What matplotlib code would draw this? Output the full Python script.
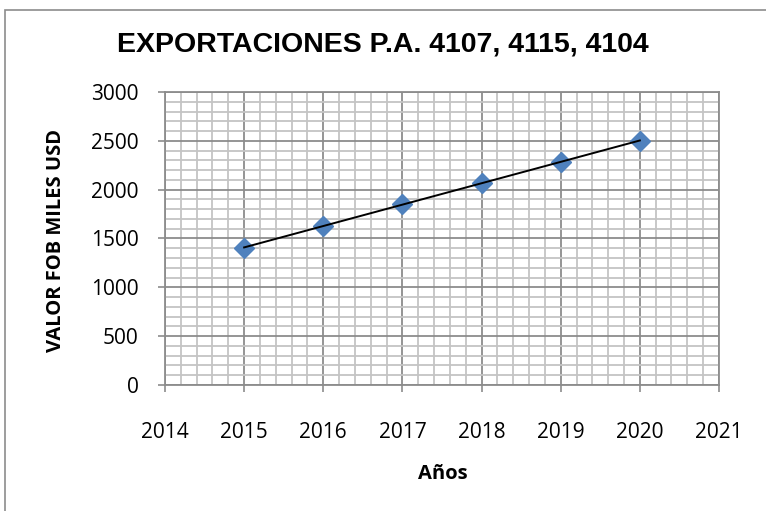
import numpy as np
import matplotlib.pyplot as plt
from matplotlib.patches import Rectangle
from matplotlib.ticker import MultipleLocator

# datos
anios = [2015, 2016, 2017, 2018, 2019, 2020]
valor_fob = [1405, 1628, 1850, 2068, 2285, 2500]

titulo = "EXPORTACIONES P.A. 4107, 4115, 4104"
etiqueta_x = "Años"
etiqueta_y = "VALOR FOB MILES USD"

fig = plt.figure(figsize=(7.66, 5.11), dpi=100)
ax = fig.add_axes([0.2154, 0.2466, 0.7232, 0.5734])

# borde del area del grafico
fig.patches.append(Rectangle((5 / 766, -0.02), 1.1, 1 - 10 / 511 + 0.02,
                             transform=fig.transFigure, fill=False,
                             edgecolor="#8c8c8c", lw=1.2))

ax.set_xlim(2014, 2021)
ax.set_ylim(0, 3000)
ax.xaxis.set_major_locator(MultipleLocator(1))
ax.xaxis.set_minor_locator(MultipleLocator(0.2))
ax.yaxis.set_major_locator(MultipleLocator(500))
ax.yaxis.set_minor_locator(MultipleLocator(100))

ax.grid(which="minor", color="#c4c4c4", lw=1.3)
ax.grid(which="major", color="#8c8c8c", lw=1.3)
ax.set_axisbelow(True)
for s in ax.spines.values():
    s.set_color("#8c8c8c")
    s.set_linewidth(1.3)

ax.tick_params(which="major", length=5, color="#8c8c8c", width=1.2,
               labelsize=15)
ax.tick_params(which="minor", length=0)
ax.tick_params(axis="x", pad=22)
ax.tick_params(axis="y", pad=14)
for lab in ax.get_xticklabels() + ax.get_yticklabels():
    lab.set_family(["Open Sans", "DejaVu Sans"])

# serie y linea de tendencia lineal
ax.plot(anios, valor_fob, linestyle="none", marker="D", markersize=10,
        color="#4f81bd", zorder=3)
m, b = np.polyfit(anios, valor_fob, 1)
xs = np.array([anios[0], anios[-1]])
ax.plot(xs, m * xs + b, color="black", lw=1.4, zorder=4)

fig.text(0.5, 1 - 45 / 511, titulo, ha="center", va="center",
         fontsize=20.5, fontweight="bold",
         family=["Liberation Sans", "DejaVu Sans"])
fig.text(443 / 766, 1 - 474 / 511, etiqueta_x, ha="center", va="center",
         fontsize=14.5, fontweight="bold", family=["Open Sans", "DejaVu Sans"])
fig.text(56 / 766, 1 - 241 / 511, etiqueta_y, ha="center", va="center",
         rotation=90, fontsize=14.5, fontweight="bold",
         family=["Open Sans", "DejaVu Sans"])

fig.savefig("out.png", dpi=100)
